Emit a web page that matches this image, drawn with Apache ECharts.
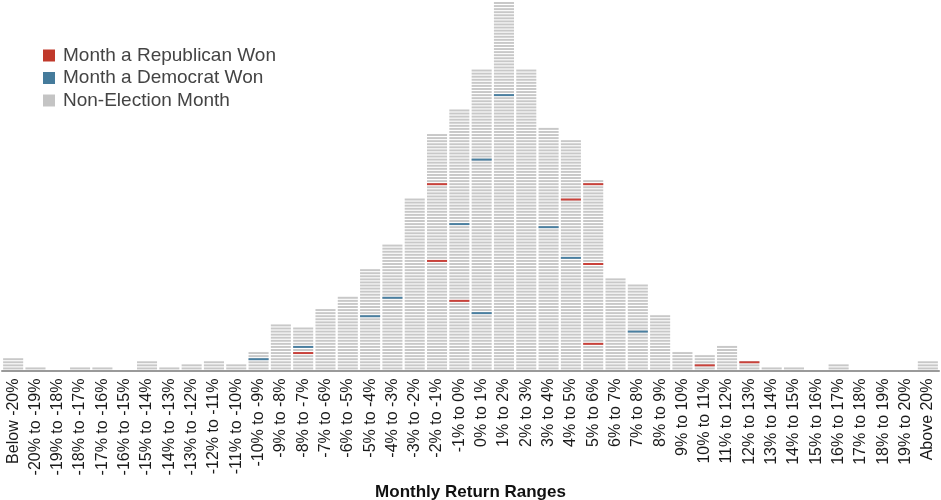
<!DOCTYPE html>
<html>
<head>
<meta charset="utf-8">
<script src="https://cdn.jsdelivr.net/npm/echarts@6/dist/echarts.min.js"></script>
<style>
html,body{margin:0;padding:0;background:#fff;}
#chart{width:941px;height:500px;}
</style>
</head>
<body>
<div id="chart"></div>
<script>
var categories = ["Below -20%","-20% to -19%","-19% to -18%","-18% to -17%","-17% to -16%","-16% to -15%","-15% to -14%","-14% to -13%","-13% to -12%","-12% to -11%","-11% to -10%","-10% to -9%","-9% to -8%","-8% to -7%","-7% to -6%","-6% to -5%","-5% to -4%","-4% to -3%","-3% to -2%","-2% to -1%","-1% to 0%","0% to 1%","1% to 2%","2% to 3%","3% to 4%","4% to 5%","5% to 6%","6% to 7%","7% to 8%","8% to 9%","9% to 10%","10% to 11%","11% to 12%","12% to 13%","13% to 14%","14% to 15%","15% to 16%","16% to 17%","17% to 18%","18% to 19%","19% to 20%","Above 20%"];
var monthCounts = [4,1,0,1,1,0,3,1,2,3,2,6,15,14,20,24,33,41,56,77,85,98,120,98,79,75,62,30,28,18,6,5,8,3,1,1,0,2,0,0,0,3];
// [category index, position of the month within the stack]
var republicanMonths = [[13,5],[19,35],[19,60],[20,22],[25,55],[26,8],[26,34],[26,60],[31,1],[33,2]];
var democratMonths = [[11,3],[13,7],[16,17],[17,23],[20,47],[21,18],[21,68],[22,89],[24,46],[25,36],[28,12]];

var GREY = '#c8c8c8', RED = '#c9413a', BLUE = '#4a7fa0';
var FONT = 'Liberation Sans, Arial, sans-serif';

function unitRect(api, cat, k, color) {
  var p0 = api.coord([cat, k]);
  var p1 = api.coord([cat, k + 1]);
  var bw = api.size([1, 0])[0];
  var w = bw * 0.9;
  return {
    type: 'rect',
    shape: { x: p0[0] - w / 2, y: p1[1], width: w, height: Math.max(0.5, (p0[1] - p1[1]) - 1.1) },
    style: { fill: color }
  };
}

var stackData = monthCounts.map(function (c, i) { return [i, c]; });

var chart = echarts.init(document.getElementById('chart'));
chart.setOption({
  animation: false,
  grid: { left: 2, right: 2, top: 2, bottom: 129.5, containLabel: false, outerBoundsMode: 'none' },
  legend: {
    orient: 'vertical', left: 38, top: 41, itemWidth: 12, itemHeight: 12, itemGap: 3.5,
    icon: 'rect',
    textStyle: { fontFamily: FONT, fontSize: 19, color: '#444', padding: [0, 0, 0, 3] },
    data: [
      { name: 'Month a Republican Won', itemStyle: { color: '#c0392b' } },
      { name: 'Month a Democrat Won', itemStyle: { color: '#457b9b' } },
      { name: 'Non-Election Month', itemStyle: { color: '#c4c4c4' } }
    ]
  },
  xAxis: {
    type: 'category', data: categories,
    name: 'Monthly Return Ranges', nameLocation: 'middle', nameGap: 110,
    nameTextStyle: { fontFamily: FONT, fontSize: 17, fontWeight: 'bold', color: '#111' },
    axisTick: { show: false },
    axisLine: { lineStyle: { color: '#9a9a9a', width: 2 } },
    axisLabel: { interval: 0, rotate: 90, margin: 8, fontFamily: FONT, fontSize: 16, color: '#1a1a1a' }
  },
  yAxis: { type: 'value', min: 0, max: 120, show: false, splitLine: { show: false } },
  series: [
    {
      name: 'Non-Election Month', type: 'custom', data: stackData, itemStyle: { color: GREY },
      renderItem: function (params, api) {
        var cat = api.value(0), n = api.value(1), ch = [];
        for (var k = 0; k < n; k++) ch.push(unitRect(api, cat, k, GREY));
        return { type: 'group', children: ch };
      }
    },
    {
      name: 'Month a Republican Won', type: 'custom', data: republicanMonths, itemStyle: { color: RED },
      renderItem: function (params, api) { return unitRect(api, api.value(0), api.value(1), RED); }
    },
    {
      name: 'Month a Democrat Won', type: 'custom', data: democratMonths, itemStyle: { color: BLUE },
      renderItem: function (params, api) { return unitRect(api, api.value(0), api.value(1), BLUE); }
    }
  ]
});
</script>
</body>
</html>
